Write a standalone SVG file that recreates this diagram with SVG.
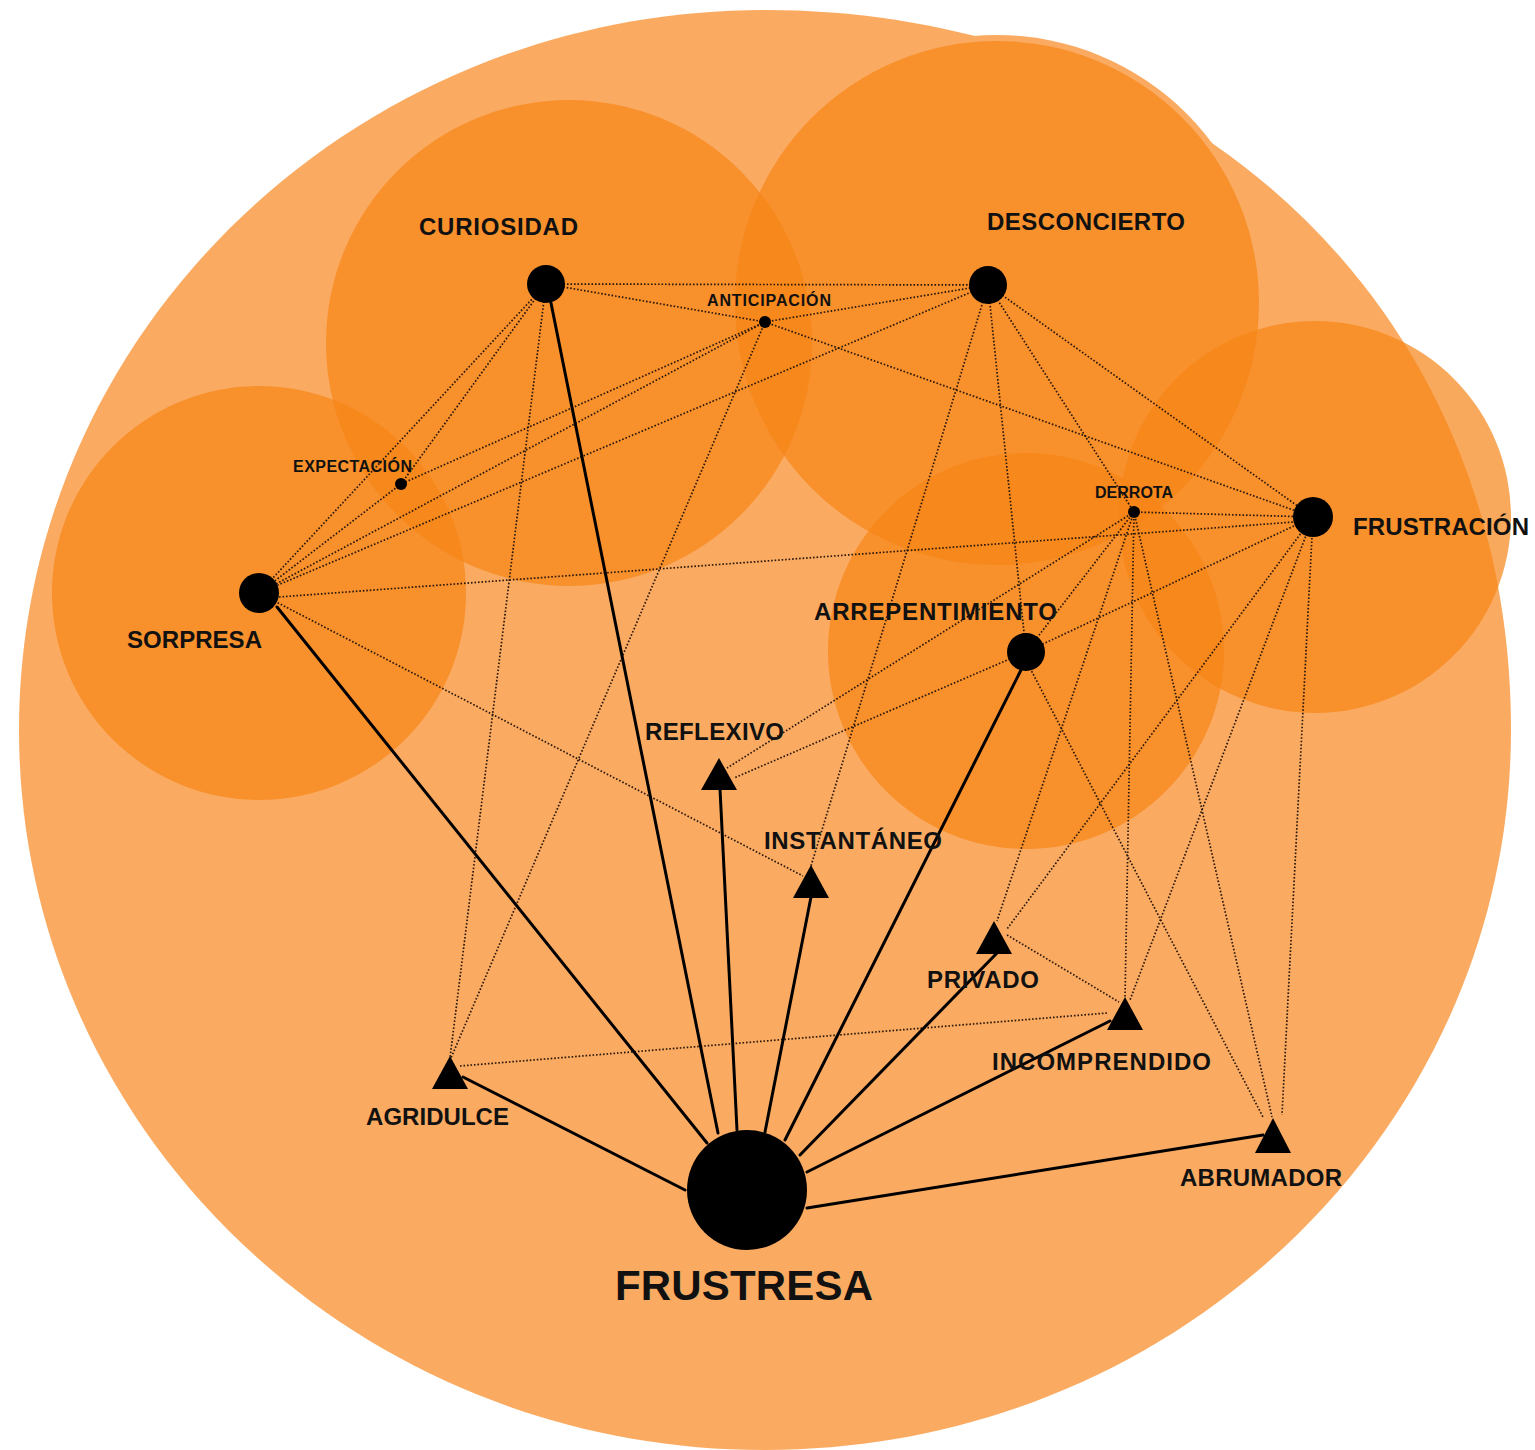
<svg xmlns="http://www.w3.org/2000/svg" width="1535" height="1450" viewBox="0 0 1535 1450">
  <defs>
    <style>
      .bg { fill: #FAAB61; }
      .zone { fill: #F68415; fill-opacity: 0.7; }
      .dot { fill: none; stroke: #2a170a; stroke-width: 1.7; stroke-dasharray: 1.6 1.9; }
      .solid { fill: none; stroke: #000; stroke-width: 3; stroke-linecap: round; }
      .node { fill: #000; }
      .lbl { font-family: "Liberation Sans", Arial, sans-serif; font-weight: bold; font-size: 24px; fill: #111; }
      .sm { font-size: 16px; }
      .big { font-size: 42px; }
    </style>
  </defs>
  <rect width="1535" height="1450" fill="#ffffff"/>

  <g id="background">
    <path class="bg" d="M765,10 C1180,10 1511,300 1511,730 C1511,1128 1177,1450 765,1450 C353,1450 19,1128 19,730 C19,332 353,10 765,10 Z"/>
    <circle class="bg" cx="997" cy="303" r="268"/>
    <circle class="zone" cx="569" cy="343" r="243"/>
    <circle class="zone" cx="997" cy="303" r="262"/>
    <circle class="zone" cx="259" cy="593" r="207"/>
    <circle class="zone" cx="1026" cy="651" r="198"/>
    <circle class="zone" cx="1315" cy="517" r="196"/>
  </g>

  <g id="connectors">
    <!-- dotted -->
    <line class="dot" x1="546" y1="284" x2="988" y2="285"/>
    <line class="dot" x1="546" y1="284" x2="765" y2="322"/>
    <line class="dot" x1="546" y1="284" x2="401" y2="484"/>
    <line class="dot" x1="546" y1="284" x2="259" y2="593"/>
    <line class="dot" x1="546" y1="284" x2="450" y2="1058"/>
    <line class="dot" x1="765" y1="322" x2="988" y2="285"/>
    <line class="dot" x1="765" y1="322" x2="401" y2="484"/>
    <line class="dot" x1="765" y1="322" x2="259" y2="593"/>
    <line class="dot" x1="765" y1="322" x2="1313" y2="517"/>
    <line class="dot" x1="765" y1="322" x2="451" y2="1058"/>
    <line class="dot" x1="401" y1="484" x2="259" y2="593"/>
    <line class="dot" x1="988" y1="285" x2="259" y2="593"/>
    <line class="dot" x1="988" y1="285" x2="811" y2="866"/>
    <line class="dot" x1="988" y1="285" x2="1026" y2="652"/>
    <line class="dot" x1="988" y1="285" x2="1134" y2="512"/>
    <line class="dot" x1="988" y1="285" x2="1313" y2="517"/>
    <line class="dot" x1="279" y1="597" x2="1294" y2="522"/>
    <line class="dot" x1="259" y1="593" x2="803" y2="876"/>
    <line class="dot" x1="1134" y1="512" x2="1313" y2="517"/>
    <line class="dot" x1="1134" y1="512" x2="727" y2="768"/>
    <line class="dot" x1="1134" y1="512" x2="1026" y2="652"/>
    <line class="dot" x1="1134" y1="512" x2="997" y2="921"/>
    <line class="dot" x1="1134" y1="512" x2="1125" y2="998"/>
    <line class="dot" x1="1134" y1="512" x2="1272" y2="1117"/>
    <line class="dot" x1="1313" y1="517" x2="1026" y2="652"/>
    <line class="dot" x1="1026" y1="652" x2="734" y2="778"/>
    <line class="dot" x1="1313" y1="517" x2="1007" y2="929"/>
    <line class="dot" x1="1313" y1="517" x2="1130" y2="1000"/>
    <line class="dot" x1="1313" y1="517" x2="1282" y2="1115"/>
    <line class="dot" x1="1030" y1="668" x2="1263" y2="1117"/>
    <line class="dot" x1="1007" y1="935" x2="1119" y2="1002"/>
    <line class="dot" x1="460" y1="1066" x2="1107" y2="1013"/>
    <!-- solid -->
    <line class="solid" x1="707" y1="1143" x2="277" y2="607"/>
    <line class="solid" x1="718" y1="1133" x2="551" y2="303"/>
    <line class="solid" x1="737" y1="1130" x2="720" y2="789"/>
    <line class="solid" x1="765" y1="1132" x2="811" y2="897"/>
    <line class="solid" x1="785" y1="1140" x2="1021" y2="670"/>
    <line class="solid" x1="800" y1="1155" x2="997" y2="953"/>
    <line class="solid" x1="807" y1="1172" x2="1110" y2="1021"/>
    <line class="solid" x1="807" y1="1208" x2="1263" y2="1135"/>
    <line class="solid" x1="685" y1="1190" x2="463" y2="1077"/>
  </g>

  <g id="curiosidad">
    <circle class="node" cx="546" cy="284" r="19"/>
    <text class="lbl" x="419" y="235" textLength="159">CURIOSIDAD</text>
  </g>
  <g id="desconcierto">
    <circle class="node" cx="988" cy="285" r="19"/>
    <text class="lbl" x="987" y="230" textLength="198">DESCONCIERTO</text>
  </g>
  <g id="anticipacion">
    <circle class="node" cx="765" cy="322" r="6"/>
    <text class="lbl sm" x="707" y="306" textLength="124">ANTICIPACIÓN</text>
  </g>
  <g id="expectacion">
    <circle class="node" cx="401" cy="484" r="6"/>
    <text class="lbl sm" x="293" y="472" textLength="119">EXPECTACIÓN</text>
  </g>
  <g id="sorpresa">
    <circle class="node" cx="259" cy="593" r="20"/>
    <text class="lbl" x="127" y="648" textLength="135">SORPRESA</text>
  </g>
  <g id="derrota">
    <circle class="node" cx="1134" cy="512" r="6"/>
    <text class="lbl sm" x="1095" y="498" textLength="78">DERROTA</text>
  </g>
  <g id="frustracion">
    <circle class="node" cx="1313" cy="517" r="20"/>
    <text class="lbl" x="1353" y="535" textLength="176">FRUSTRACIÓN</text>
  </g>
  <g id="arrepentimiento">
    <circle class="node" cx="1026" cy="652" r="19"/>
    <text class="lbl" x="814" y="620" textLength="243">ARREPENTIMIENTO</text>
  </g>
  <g id="reflexivo">
    <polygon class="node" points="719,758 737,790 701,790"/>
    <text class="lbl" x="645" y="740" textLength="139">REFLEXIVO</text>
  </g>
  <g id="instantaneo">
    <polygon class="node" points="811,865 829,898 793,898"/>
    <text class="lbl" x="764" y="849" textLength="178">INSTANTÁNEO</text>
  </g>
  <g id="privado">
    <polygon class="node" points="994,921 1012,954 976,954"/>
    <text class="lbl" x="927" y="988" textLength="112">PRIVADO</text>
  </g>
  <g id="incomprendido">
    <polygon class="node" points="1125,997 1143,1030 1107,1030"/>
    <text class="lbl" x="992" y="1070" textLength="219">INCOMPRENDIDO</text>
  </g>
  <g id="agridulce">
    <polygon class="node" points="450,1056 468,1089 432,1089"/>
    <text class="lbl" x="366" y="1125" textLength="143">AGRIDULCE</text>
  </g>
  <g id="abrumador">
    <polygon class="node" points="1273,1118 1291,1153 1255,1153"/>
    <text class="lbl" x="1180" y="1186" textLength="162">ABRUMADOR</text>
  </g>
  <g id="frustresa">
    <circle class="node" cx="747" cy="1190" r="60"/>
    <text class="lbl big" x="615" y="1300" textLength="258">FRUSTRESA</text>
  </g>
</svg>
